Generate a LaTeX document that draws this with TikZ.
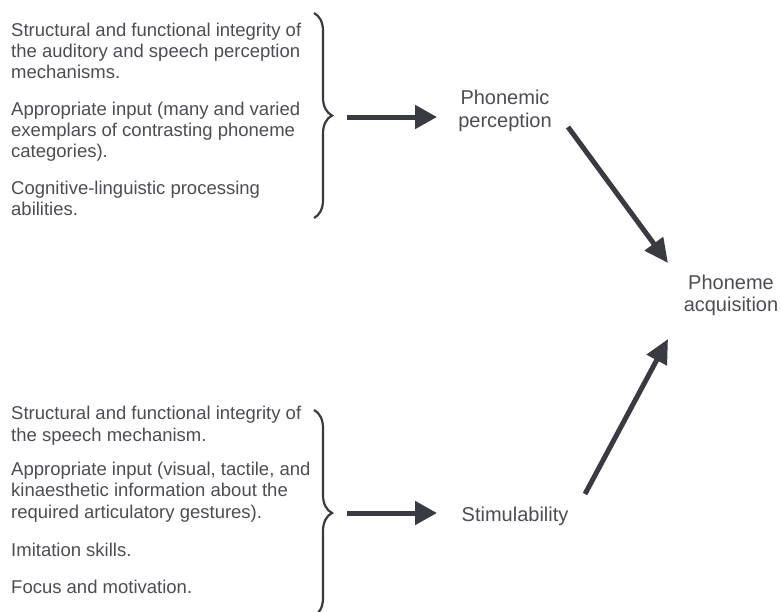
\documentclass[tikz,border=0pt]{standalone}
\usepackage{fontspec}
\setmainfont{Liberation Sans}
\usetikzlibrary{arrows.meta,decorations.pathreplacing}
\definecolor{txt}{HTML}{4D4D52}
\definecolor{ink}{HTML}{3A3A42}
\begin{document}
\begin{tikzpicture}[x=1pt,y=-1pt,
  para/.style={anchor=base west, align=left, inner sep=0pt, text=txt, font=\fontsize{18.5}{21.3}\selectfont},
  lab/.style={anchor=base, align=center, inner sep=0pt, text=txt, font=\fontsize{20}{22.4}\selectfont},
  bracestyle/.style={draw=ink, line width=2.2pt, decorate, decoration={brace, amplitude=18pt}},
  harrow/.style={draw=ink, line width=5pt, -{Triangle[length=22pt,width=23pt]}},
  darrow/.style={draw=ink, line width=5pt, -{Triangle[length=24pt,width=22pt]}}]
\clip (0,0) rectangle (781,611);
\fill[white] (0,0) rectangle (781,611);
% top block (anchor = baseline of last line)
\node[para] (p1) at (11,78.6) {Structural and functional integrity of\\the auditory and speech perception\\mechanisms.};
\node[para] (p2) at (11,157.8) {Appropriate input (many and varied\\exemplars of contrasting phoneme\\categories).};
\node[para] (p3) at (11,215.7) {Cognitive-linguistic processing\\abilities.};
% bottom block
\node[para] (q1) at (11,441) {Structural and functional integrity of\\the speech mechanism.};
\node[para] (q2) at (11,518) {Appropriate input (visual, tactile, and\\kinaesthetic information about the\\required articulatory gestures).};
\node[para] (q3) at (11,556) {Imitation skills.};
\node[para] (q4) at (11,593) {Focus and motivation.};
% labels
\node[lab] (pp) at (505,127) {Phonemic\\perception};
\node[lab] (pa) at (731,311.7) {Phoneme\\acquisition};
\node[lab, anchor=base west] (st) at (461.5,521.7) {Stimulability};
% braces
\coordinate (b1top) at (314,13);
\coordinate (b1bot) at (314,218);
\coordinate (b2top) at (314,410);
\coordinate (b2bot) at (314,616);
\draw[bracestyle] (b1top) -- (b1bot);
\draw[bracestyle] (b2top) -- (b2bot);
% arrows
\coordinate (a1s) at (347,117);
\coordinate (a1e) at (437,117);
\coordinate (a2s) at (347,513);
\coordinate (a2e) at (437,513);
\coordinate (d1s) at (568,127);
\coordinate (d1e) at (668,263);
\coordinate (d2s) at (585,494);
\coordinate (d2e) at (668,339);
\draw[harrow] (a1s) -- (a1e);
\draw[harrow] (a2s) -- (a2e);
\draw[darrow] (d1s) -- (d1e);
\draw[darrow] (d2s) -- (d2e);
\end{tikzpicture}
\end{document}
